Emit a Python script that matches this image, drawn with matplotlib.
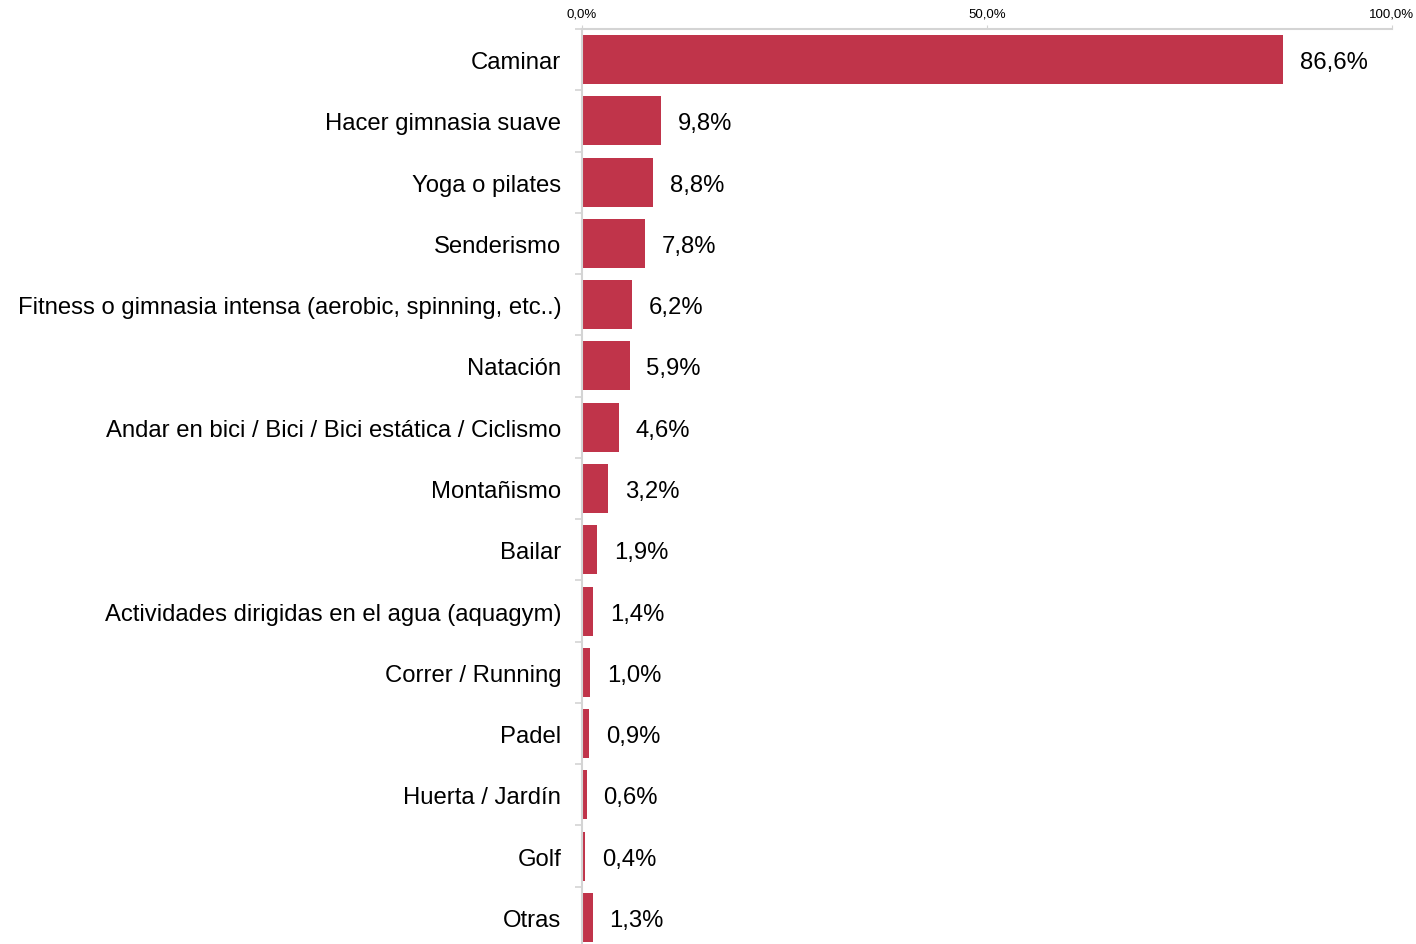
import matplotlib.pyplot as plt
import numpy as np

plt.rcParams['font.family'] = ['Liberation Sans', 'DejaVu Sans']

categories = ['Caminar', 'Hacer gimnasia suave', 'Yoga o pilates', 'Senderismo',
              'Fitness o gimnasia intensa (aerobic, spinning, etc..)', 'Natación',
              'Andar en bici / Bici / Bici estática / Ciclismo', 'Montañismo', 'Bailar',
              'Actividades dirigidas en el agua (aquagym)', 'Correr / Running', 'Padel',
              'Huerta / Jardín', 'Golf', 'Otras']
values = [86.6, 9.8, 8.8, 7.8, 6.2, 5.9, 4.6, 3.2, 1.9, 1.4, 1.0, 0.9, 0.6, 0.4, 1.3]
x_ticks = [0, 50, 100]

W, H = 1416, 945
fig = plt.figure(figsize=(W / 100, H / 100), dpi=100)
ax = fig.add_axes([582 / W, -4 / H, 810 / W, 919 / H])

y = np.arange(len(categories))
ax.barh(y, values, height=0.8, color='#c0344a')
ax.set_ylim(len(categories) - 0.5, -0.5)
ax.set_xlim(0, 100)

for yi, v in zip(y, values):
    ax.annotate(f'{v:.1f}%'.replace('.', ','), (v, yi), xytext=(12, 0),
                textcoords='offset points', va='center_baseline', ha='left', fontsize=17.2)

for s in ['right', 'bottom']:
    ax.spines[s].set_visible(False)
for s in ['left', 'top']:
    ax.spines[s].set_color('#d4d4d4')
    ax.spines[s].set_linewidth(1.5)

ax.xaxis.tick_top()
ax.set_xticks(x_ticks)
ax.set_xticklabels([f'{t:.1f}%'.replace('.', ',') for t in x_ticks], fontsize=9.5)
ax.tick_params(axis='x', length=3, color='#d4d4d4', pad=4)

ax.set_yticks(y)
ax.set_yticklabels(categories, fontsize=17.2, va='center_baseline')
ax.tick_params(axis='y', which='major', length=0, pad=15)
ax.set_yticks(np.arange(len(categories) + 1) - 0.5, minor=True)
ax.tick_params(axis='y', which='minor', length=5, color='#d4d4d4', width=1.2)

fig.savefig('out.png', dpi=100)
